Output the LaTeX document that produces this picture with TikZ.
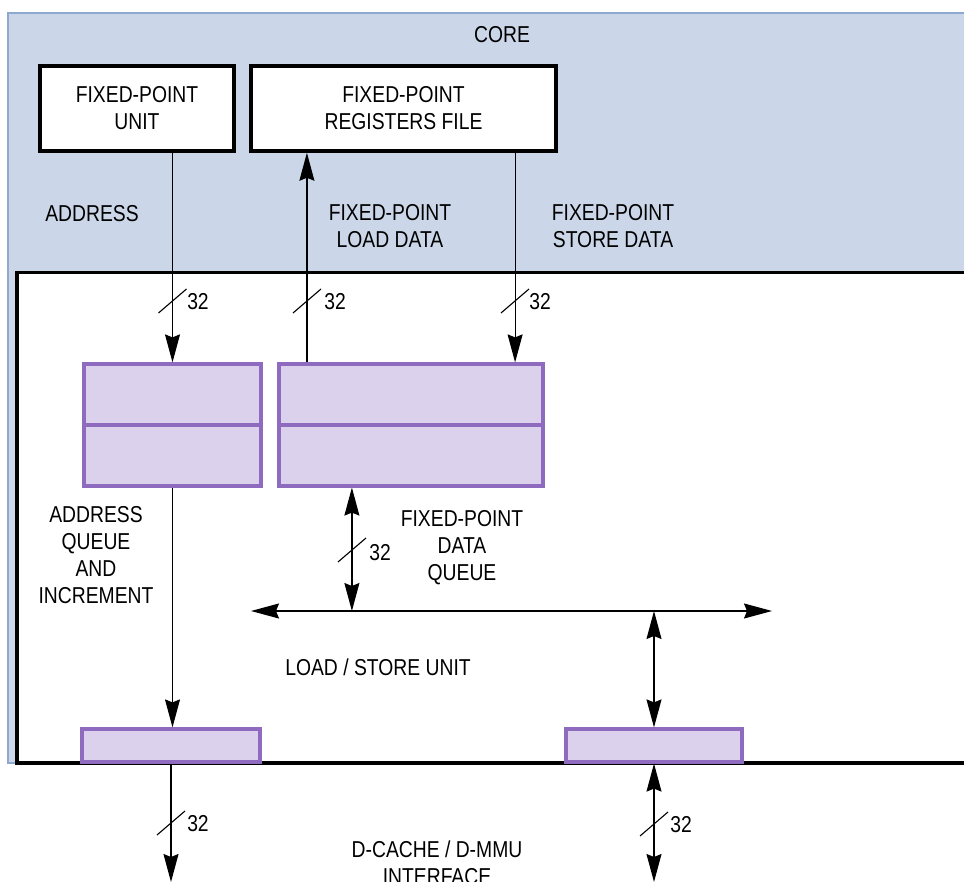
\documentclass[tikz,border=0pt]{standalone}
\usepackage{fontspec}
\setmainfont[FakeStretch=0.84]{Liberation Sans}
\usetikzlibrary{arrows.meta,calc}
\definecolor{coreblue}{HTML}{CBD7E8}
\definecolor{coreedge}{HTML}{8DA9CF}
\definecolor{qedge}{HTML}{8E6BBF}
\definecolor{qfill}{HTML}{DCD1EC}
\tikzset{
  lbl/.style={font=\fontsize{23}{27}\selectfont, inner sep=0pt, align=center},
  corebox/.style={draw=coreedge, fill=coreblue, line width=1.5pt, inner sep=0pt},
  lsubox/.style={draw=black, fill=white, line width=3.5pt, inner sep=0pt},
  unitbox/.style={draw=black, fill=white, line width=3.5pt, inner sep=0pt, align=center, font=\fontsize{23}{27}\selectfont},
  qbox/.style={draw=qedge, fill=qfill, line width=3.2pt, inner sep=0pt},
  qline/.style={draw=qedge, line width=3.2pt},
  wire/.style={line width=1.2pt},
  arr/.style={wire, -{Stealth[length=28pt,width=15pt,inset=3pt]}},
  darr/.style={wire, {Stealth[length=28pt,width=15pt,inset=3pt]}-{Stealth[length=28pt,width=15pt,inset=3pt]}},
  wslash/.pic={\draw[line width=1.1pt] (-14,12) -- (14,-12);}
}
\begin{document}
\begin{tikzpicture}[x=1pt,y=-1pt]
\useasboundingbox (0,0) rectangle (964,882);
\clip (0,0) rectangle (964,882);
\fill[white] (0,0) rectangle (964,882);

% containers
\node[corebox, minimum width=967pt, minimum height=750pt] (core) at (491.5,388) {};
\node[lsubox, minimum width=963pt, minimum height=490.5pt] (lsu) at (498.5,517.75) {};
\node[lbl] (corelbl) at (502,35) {CORE};

% core units
\node[unitbox, minimum width=194pt, minimum height=85pt] (fpu) at (137,108.5) {FIXED-POINT\\UNIT};
\node[unitbox, minimum width=305pt, minimum height=85pt] (fprf) at (403.5,108.5) {FIXED-POINT\\REGISTERS FILE};

% queues
\node[qbox, minimum width=177pt, minimum height=122pt] (aq) at (172.5,425) {};
\node[qbox, minimum width=264pt, minimum height=122pt] (dq) at (411,425) {};
\draw[qline] (aq.west) -- (aq.east);
\draw[qline] (dq.west) -- (dq.east);

% bottom buffers
\node[qbox, minimum width=178pt, minimum height=33pt] (bl) at (171,745.5) {};
\node[qbox, minimum width=176pt, minimum height=33pt] (br) at (654,745.5) {};

% free ends
\coordinate (busL) at (251,611);
\coordinate (busR) at (772,611);
\coordinate (outL) at (171,882);

% connectors
\draw[arr] (fpu.south -| aq.north) -- (aq.north);
\draw[arr] ([xshift=29.5pt]dq.north west) -- ([xshift=29.5pt]dq.north west |- fprf.south);
\draw[arr] ([xshift=-29.5pt]dq.north east |- fprf.south) -- ([xshift=-29.5pt]dq.north east);
\draw[darr] (busL) -- (busR);
\draw[darr] ([xshift=74.5pt]dq.south west) -- ([xshift=74.5pt]dq.south west |- busL);
\draw[darr] (br.north |- busL) -- (br.north);
\draw[arr] (aq.south) -- (aq.south |- bl.north);
\draw[arr] (bl.south) -- (bl.south |- outL);
\draw[darr] (br.south) -- (br.south |- outL);

% bus width marks
\pic at (172.5,301) {wslash};
\pic at (307,301) {wslash};
\pic at (515,301) {wslash};
\pic at (352,550) {wslash};
\pic at (171,823) {wslash};
\pic at (654,824) {wslash};
\node[lbl] (w1) at (198,302) {32};
\node[lbl] (w2) at (335,302) {32};
\node[lbl] (w3) at (540,302) {32};
\node[lbl] (w4) at (380,553) {32};
\node[lbl] (w5) at (198,824) {32};
\node[lbl] (w6) at (681,825) {32};

% labels
\node[lbl] (addr) at (92,214) {ADDRESS};
\node[lbl] (ldlbl) at (390,226.5) {FIXED-POINT\\LOAD DATA};
\node[lbl] (stlbl) at (613,226.5) {FIXED-POINT\\STORE DATA};
\node[lbl] (aqlbl) at (96,555) {ADDRESS\\QUEUE\\AND\\INCREMENT};
\node[lbl] (dqlbl) at (462,547.5) {FIXED-POINT\\DATA\\QUEUE};
\node[lbl] (lsulbl) at (378,667) {LOAD / STORE UNIT};
\node[lbl] (dclbl) at (437,863) {D-CACHE / D-MMU\\INTERFACE};
\end{tikzpicture}
\end{document}
